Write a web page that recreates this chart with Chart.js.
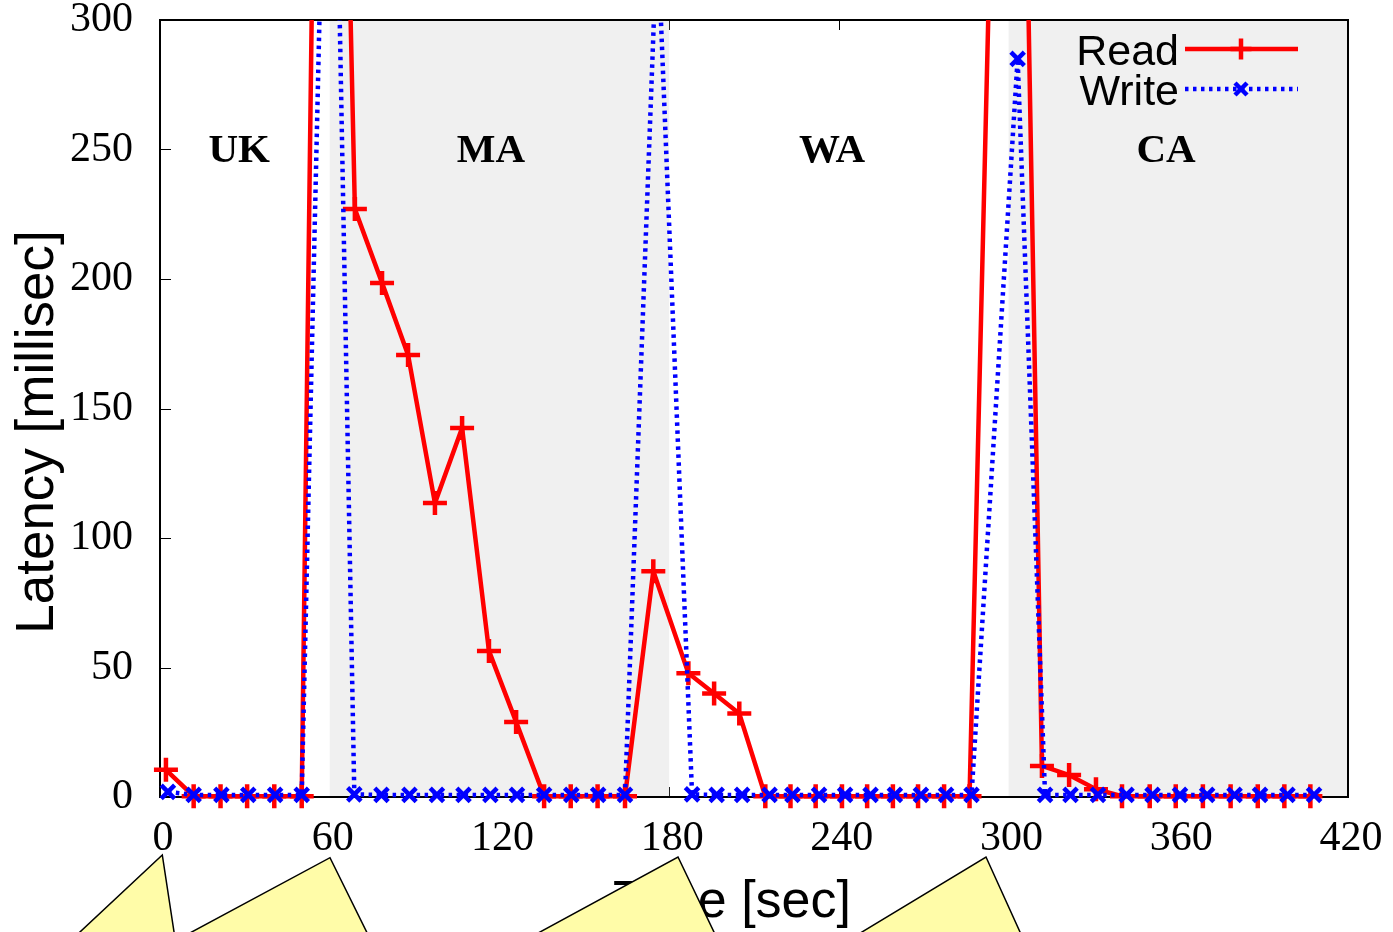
<!DOCTYPE html>
<html><head><meta charset="utf-8">
<script src="https://cdn.jsdelivr.net/npm/chart.js@4.4.1/dist/chart.umd.min.js"></script>
<style>html,body{margin:0;padding:0;background:#fff;overflow:hidden}#wrap{width:1393px;height:932px;position:relative}canvas{display:block}</style>
</head><body><div id="wrap"><canvas id="c" width="1393" height="932"></canvas></div>
<script>
// ---- data ----
const readTimes = [2.1, 11.9, 21.4, 30.8, 40.4, 50.1, 58.6, 68.9, 78.5, 87.7, 97.2, 106.8, 116.3, 125.9, 135.8, 145.2, 154.7, 164.4, 174.4, 186.8, 195.9, 204.8, 214.0, 222.9, 231.8, 241.1, 250.0, 259.1, 268.0, 277.2, 286.2, 301.0, 311.8, 321.4, 330.9, 340.1, 349.9, 359.1, 368.7, 378.5, 388.1, 397.5, 406.7];
const readLatency = [10.5, 0.3, 0.3, 0.3, 0.3, 0.3, 726, 227, 198.5, 170.7, 113.5, 142.5, 56.4, 29, 0.3, 0.3, 0.3, 0.3, 87.2, 47.8, 40, 32.2, 0.3, 0.3, 0.3, 0.3, 0.3, 0.3, 0.3, 0.3, 0.3, 672, 12, 8.5, 3, 0.3, 0.3, 0.3, 0.3, 0.3, 0.3, 0.3, 0.3];
const writeTimes = [2.8, 11.9, 21.7, 31.2, 40.7, 50.1, 60.3, 68.7, 78.3, 88.2, 97.9, 107.3, 116.8, 126.2, 135.8, 145.4, 154.9, 164.4, 175.8, 188.1, 196.8, 205.8, 215.5, 223.6, 233.0, 242.2, 251.2, 259.8, 269.0, 277.9, 286.9, 303.2, 312.9, 321.9, 331.6, 341.7, 350.9, 360.6, 370.2, 379.9, 388.9, 398.6, 408.0];
const writeLatency = [2, 0.8, 0.8, 0.8, 0.8, 0.8, 488, 1, 0.8, 0.8, 0.8, 0.8, 0.8, 0.8, 0.8, 0.8, 0.8, 0.8, 335, 1, 0.8, 0.8, 0.8, 0.8, 0.8, 0.8, 0.8, 0.8, 0.8, 0.8, 0.8, 285, 0.8, 0.8, 0.8, 0.8, 0.8, 0.8, 0.8, 0.8, 0.8, 0.8, 0.8];
const seriesNames = ['Read', 'Write'];
const xTicks = [0, 60, 120, 180, 240, 300, 360, 420];
const yTicks = [0, 50, 100, 150, 200, 250, 300];
const regionNames = ['UK', 'MA', 'WA', 'CA'];
const regionBounds = [0, 60, 180, 300, 420];
const regionShaded = [false, true, false, true];
const regionLabelX = [28, 117, 237.6, 355.7];
const regionLabelY = 245;
const xTitle = 'Time [sec]';
const yTitle = 'Latency [millisec]';

// ---- styling ----
const RED = '#ff0000', BLUE = '#0000ff', SHADE = '#f0f0f0';
const SANS = '"Liberation Sans", Arial, sans-serif';
const SERIF = '"Liberation Serif", "Times New Roman", serif';

const toPts = (xs, ys) => xs.map((t, i) => ({x: t, y: ys[i]}));

const decor = {
  id: 'decor',
  beforeDatasetsDraw(chart) {
    const {ctx, chartArea: a, scales: {x, y}} = chart;
    ctx.save();
    // inward tick marks on all four sides
    ctx.strokeStyle = '#000'; ctx.lineWidth = 1;
    ctx.beginPath();
    xTicks.forEach(v => {
      const px = Math.round(x.getPixelForValue(v)) + 0.5;
      ctx.moveTo(px, a.bottom); ctx.lineTo(px, a.bottom - 10);
      ctx.moveTo(px, a.top); ctx.lineTo(px, a.top + 10);
    });
    yTicks.forEach(v => {
      const py = Math.round(y.getPixelForValue(v)) + 0.5;
      ctx.moveTo(a.left, py); ctx.lineTo(a.left + 11, py);
      ctx.moveTo(a.right, py); ctx.lineTo(a.right - 11, py);
    });
    ctx.stroke();
    // shaded regions
    ctx.fillStyle = SHADE;
    for (let i = 0; i < regionNames.length; i++) {
      if (!regionShaded[i]) continue;
      const x0 = x.getPixelForValue(regionBounds[i]), x1 = x.getPixelForValue(regionBounds[i + 1]);
      ctx.fillRect(x0, a.top, x1 - x0, a.bottom - a.top);
    }
    // region labels
    ctx.fillStyle = '#000';
    ctx.font = 'bold 41px ' + SERIF;
    ctx.textAlign = 'center'; ctx.textBaseline = 'alphabetic';
    regionNames.forEach((n, i) => ctx.fillText(n, x.getPixelForValue(regionLabelX[i]), y.getPixelForValue(regionLabelY)));
    // border
    ctx.strokeStyle = '#000'; ctx.lineWidth = 2;
    ctx.strokeRect(a.left, a.top, a.right - a.left, a.bottom - a.top);
    ctx.restore();
  },
  afterDatasetsDraw(chart) {
    const {ctx, chartArea: a} = chart;
    ctx.save();
    ctx.font = '43px ' + SANS;
    ctx.textAlign = 'right'; ctx.textBaseline = 'alphabetic'; ctx.fillStyle = '#000';
    chart.data.datasets.forEach((ds, i) => {
      const yy = a.top + 29 + 40 * i;
      ctx.fillText(ds.label, a.right - 169, yy + 16);
      ctx.save();
      ctx.strokeStyle = ds.borderColor; ctx.lineWidth = ds.borderWidth;
      ctx.setLineDash(ds.borderDash || []);
      ctx.beginPath(); ctx.moveTo(a.right - 163, yy); ctx.lineTo(a.right - 50, yy); ctx.stroke();
      ctx.setLineDash([]);
      ctx.strokeStyle = ds.pointBorderColor; ctx.fillStyle = ds.pointBorderColor;
      ctx.lineWidth = ds.pointBorderWidth;
      Chart.helpers.drawPoint(ctx, {pointStyle: ds.pointStyle, radius: ds.pointStyle === 'cross' ? 10.5 : 8.5, borderWidth: ds.pointBorderWidth, rotation: 0}, a.right - 107, yy);
      ctx.restore();
    });
    ctx.restore();
  },
  afterDraw(chart) {
    const {ctx} = chart;
    ctx.save();
    ctx.fillStyle = '#000';
    // axis titles
    ctx.font = '52px ' + SANS;
    ctx.textAlign = 'center'; ctx.textBaseline = 'alphabetic';
    ctx.fillText(xTitle, 732, 917);
    ctx.save();
    ctx.translate(53, 432); ctx.rotate(-Math.PI / 2);
    ctx.font = '53px ' + SANS;
    ctx.fillText(yTitle, 0, 0);
    ctx.restore();
    // callout pointers below the axis
    const callouts = [
      [[162.3, 855], [50, 960], [178.3, 960]],
      [[330, 857.7], [139.6, 960], [380.5, 960]],
      [[678, 857], [488.5, 960], [727.4, 960]],
      [[986, 857], [815.7, 960], [1032.7, 960]]
    ];
    ctx.fillStyle = '#fffca8'; ctx.strokeStyle = '#000'; ctx.lineWidth = 1.5;
    callouts.forEach(p => {
      ctx.beginPath(); ctx.moveTo(p[1][0], p[1][1]); ctx.lineTo(p[0][0], p[0][1]); ctx.lineTo(p[2][0], p[2][1]); ctx.closePath();
      ctx.fill();
      ctx.beginPath(); ctx.moveTo(p[1][0], p[1][1]); ctx.lineTo(p[0][0], p[0][1]); ctx.lineTo(p[2][0], p[2][1]); ctx.stroke();
    });
    ctx.restore();
  }
};

new Chart(document.getElementById('c'), {
  type: 'line',
  data: {
    datasets: [
      {
        label: seriesNames[0], data: toPts(readTimes, readLatency), order: 1,
        borderColor: RED, backgroundColor: RED, borderWidth: 4.5, tension: 0, fill: false,
        pointStyle: 'cross', pointRadius: 12, pointBorderWidth: 4.5, pointBorderColor: RED, pointBackgroundColor: RED,
        clip: {left: 14, right: 14, top: 0, bottom: 14}
      },
      {
        label: seriesNames[1], data: toPts(writeTimes, writeLatency), order: 0,
        borderColor: BLUE, backgroundColor: BLUE, borderWidth: 4.5, borderDash: [3.5, 4.5], tension: 0, fill: false,
        pointStyle: 'crossRot', pointRadius: 9.5, pointBorderWidth: 4.5, pointBorderColor: BLUE, pointBackgroundColor: BLUE,
        clip: {left: 14, right: 14, top: 0, bottom: 14}
      }
    ]
  },
  options: {
    responsive: false, animation: false, devicePixelRatio: 1,
    layout: {padding: {top: 20, right: 45, left: 0, bottom: 0}},
    plugins: {legend: {display: false}, tooltip: {enabled: false}},
    scales: {
      x: {
        type: 'linear', min: 0, max: 420,
        afterFit: s => { s.height = 135; s.paddingLeft = 0; s.paddingRight = 0; },
        afterBuildTicks: s => { s.ticks = xTicks.map(v => ({value: v})); },
        grid: {display: false, drawTicks: false}, border: {display: false},
        ticks: {color: '#000', padding: 21, labelOffset: 3, maxRotation: 0, autoSkip: false, font: {family: SERIF, size: 42, lineHeight: 1}}
      },
      y: {
        type: 'linear', min: 0, max: 300,
        afterFit: s => { s.width = 160; s.paddingTop = 0; s.paddingBottom = 0; },
        afterBuildTicks: s => { s.ticks = yTicks.map(v => ({value: v})); },
        grid: {display: false, drawTicks: false}, border: {display: false},
        ticks: {color: '#000', padding: 27, font: {family: SERIF, size: 42, lineHeight: 1}}
      }
    }
  },
  plugins: [decor]
});
</script>
</body></html>
